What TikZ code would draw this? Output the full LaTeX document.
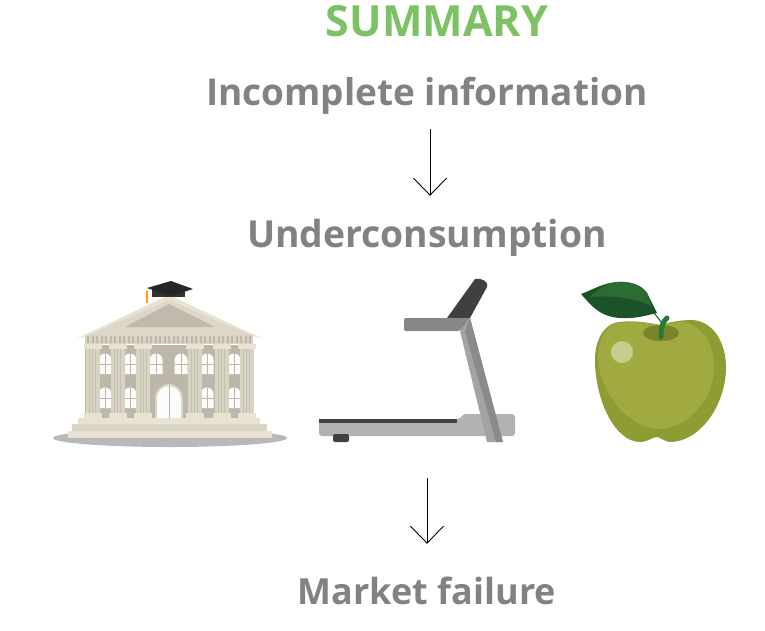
\documentclass[tikz,border=0pt]{standalone}
\usepackage{fontspec}
\setmainfont{Open Sans}
\usetikzlibrary{arrows.meta}
\definecolor{titlegreen}{HTML}{7CC264}
\definecolor{textgray}{HTML}{828282}
\definecolor{stone}{HTML}{D9D3C3}
\definecolor{stonelight}{HTML}{E8E2D3}
\definecolor{stonedark}{HTML}{BDB7AA}
\definecolor{applelight}{HTML}{A0AA40}
\definecolor{appledark}{HTML}{8F9C33}
\definecolor{leafdark}{HTML}{1C5227}
\definecolor{leaflight}{HTML}{2B6C35}
\tikzset{
  headline/.style={font=\bfseries\fontsize{37}{37}\selectfont,text=textgray,inner sep=0pt,text height=28pt,text depth=8pt},
  flowarrow/.style={draw=black,line width=0.8pt,-{Straight Barb[length=17pt,width=33pt,line width=0.9pt]}},
  pane/.style={fill=white!96!stonedark},
  bar/.style={draw=stonedark,line width=0.6pt},
}
\begin{document}
\begin{tikzpicture}[x=1pt,y=-1pt]
  \useasboundingbox (0,0) rectangle (765,630);

  \node[headline,text=titlegreen,font=\bfseries\fontsize{43}{43}\selectfont] (summary) at (437,26) {SUMMARY};
  \node[headline] (incomplete) at (427,95) {Incomplete information};
  \node[headline,font=\bfseries\fontsize{37.3}{37}\selectfont] (under) at (427,237) {Underconsumption};
  \node[headline,font=\bfseries\fontsize{36}{36}\selectfont] (market) at (427,594) {Market failure};

  % building
  \fill[gray!55] (170,438) ellipse (117 and 9);
  \fill[stonedark] (85,345) rectangle (253,418);
  \foreach \wx in {105,130,156,181,207,234} {
    \fill[pane] (\wx-6.5,374) -- (\wx-6.5,360) arc (180:360:6.5) -- (\wx+6.5,374) -- cycle;
    \draw[bar] (\wx,353) -- (\wx,374) (\wx-6.5,364) -- (\wx+6.5,364);
  }
  \foreach \wx in {105,130,207,234} {
    \fill[pane] (\wx-6.5,408) -- (\wx-6.5,394) arc (180:360:6.5) -- (\wx+6.5,408) -- cycle;
    \draw[bar] (\wx,388) -- (\wx,408) (\wx-6.5,398) -- (\wx+6.5,398);
  }
  \foreach \cx in {92.5,117.5,143,194.5,221.5,246.5} {
    \fill[stone] (\cx-7,349) rectangle (\cx+7,413);
    \draw[stonedark!70!stone,line width=0.5pt] (\cx-3,349) -- (\cx-3,413) (\cx,349) -- (\cx,413) (\cx+3,349) -- (\cx+3,413);
    \fill[stonelight] (\cx-9,344) rectangle (\cx+9,349);
    \fill[stonelight] (\cx-9,413) rectangle (\cx+9,418);
  }
  \fill[stone] (155,418) -- (155,398) arc (180:360:14) -- (183,418) -- cycle;
  \fill[pane] (157,418) -- (157,398) arc (180:360:12) -- (181,418) -- cycle;
  \draw[bar] (169,386) -- (169,418);
  \fill[stonelight] (78,418) rectangle (260,424);
  \fill[stone] (72,424) rectangle (267,431);
  \fill[stonelight] (68,431) rectangle (272,438);
  \fill[stone] (85,335) rectangle (253,344);
  \foreach \dx in {87,91.5,...,251} {
    \fill[stonedark] (\dx,336) rectangle (\dx+2,343);
  }
  \fill[stone!70!stonelight] (78,338) -- (169,297) -- (261,338) -- (255,335) -- (84,335) -- cycle;
  \fill[stonelight] (78,338) -- (169,295) -- (261,338) -- (256,337) -- (169,300) -- (83,337) -- cycle;
  \fill[stonedark!90!stone] (125,327) -- (169,304) -- (215,327) -- cycle;

  % cap on the roof
  \fill[black!80] (152,289) -- (152,297) -- (185,297) -- (185,289) -- cycle;
  \fill[black!85] (147,288) -- (171,281) -- (193,289) -- (171,296) -- cycle;
  \draw[orange!75!yellow,line width=2pt] (147,291) -- (147,303);

  % treadmill
  \node[minimum width=196pt,minimum height=163pt,inner sep=0pt] (treadmill) at (417,360.5) {};
  \fill[black!30,rounded corners=3pt] (319,419) -- (460,419) -- (463,414) -- (515,414) -- (515,436) -- (319,436) -- cycle;
  \fill[black!75] (319,419) rectangle (457,423);
  \fill[black!75,rounded corners=2pt] (333,434) rectangle (349,442);
  \fill[black!75] (447,318) -- (475,279) to[out=20,in=60] (487,287) -- (470,318) -- cycle;
  \fill[black!36] (460,331) -- (470,318) -- (503,442) -- (487,442) -- cycle;
  \fill[black!46] (465,331) -- (470,318) -- (503,442) -- (496,442) -- cycle;
  \fill[black!47,rounded corners=2pt] (404,331) -- (404,318) -- (470,318) -- (460,331) -- cycle;

  % apple
  \fill[appledark] (660,325) .. controls (670,322) and (680,320) .. (693,320)
    .. controls (715,322) and (726,345) .. (726,367)
    .. controls (726,405) and (700,442) .. (670,442)
    .. controls (665,442) and (660,437) .. (657,437)
    .. controls (652,437) and (648,442) .. (640,442)
    .. controls (615,442) and (595,400) .. (595,360)
    .. controls (595,335) and (608,322) .. (620,322)
    .. controls (635,320) and (650,323) .. (660,325) -- cycle;
  \fill[applelight] (660,325) .. controls (668,323) and (676,322) .. (685,322)
    .. controls (704,328) and (714,345) .. (714,367)
    .. controls (714,398) and (690,427) .. (660,429)
    .. controls (630,429) and (601,395) .. (598,360)
    .. controls (597,338) and (608,323) .. (620,323)
    .. controls (635,321) and (650,323) .. (660,325) -- cycle;
  \fill[appledark!85!black] (661,333) ellipse (18 and 8);
  \fill[applelight!60!white] (622,352) circle (11);
  \fill[leafdark] (657,313) -- (647,293) .. controls (640,283) and (625,281) .. (617,282)
    .. controls (603,283) and (592,290) .. (581,294)
    .. controls (590,304) and (600,318) .. (622,318)
    .. controls (635,319) and (648,315) .. (657,313) -- cycle;
  \fill[leaflight] (652,307) .. controls (640,298) and (610,295) .. (590,297)
    .. controls (597,290) and (605,284) .. (617,282)
    .. controls (630,281) and (642,285) .. (647,293) -- cycle;
  \draw[leafdark,line width=1pt] (652,310) -- (661,322);
  \draw[leaflight!90!green,line width=5pt,line cap=round] (661,337) .. controls (661,328) and (662,322) .. (667,318);

  \draw[flowarrow,shorten <=16pt,shorten >=23pt] ([xshift=3pt]incomplete.south) -- ([xshift=3pt]under.north);
  \draw[flowarrow,shorten <=36pt,shorten >=32pt] ([xshift=10pt]treadmill.south) -- (market.north);
\end{tikzpicture}
\end{document}
